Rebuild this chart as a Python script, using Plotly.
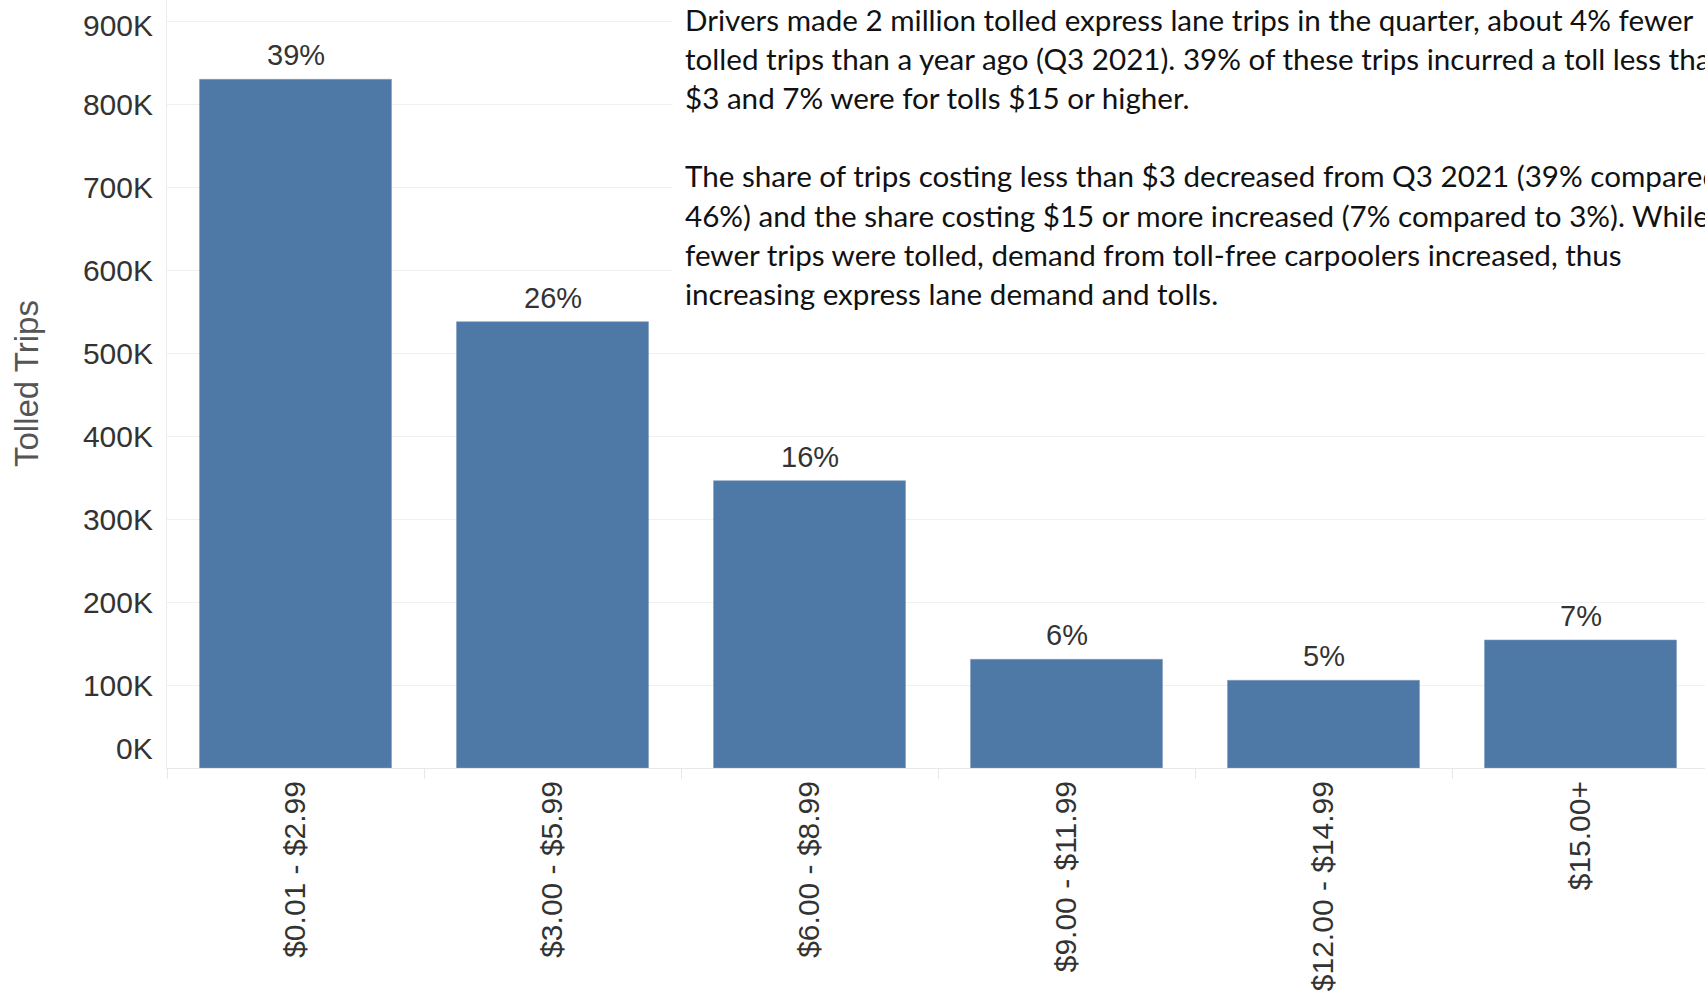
import plotly.graph_objects as go

# Toll ranges and tolled trip counts for the quarter
toll_ranges = ["$0.01 - $2.99", "$3.00 - $5.99", "$6.00 - $8.99",
               "$9.00 - $11.99", "$12.00 - $14.99", "$15.00+"]
tolled_trips = [830800, 538400, 346600, 131100, 105800, 154400]

y_tick_values = [100000, 200000, 300000, 400000, 500000, 600000, 700000, 800000]
y_tick_labels = ["100K", "200K", "300K", "400K", "500K", "600K", "700K", "800K"]

summary_lines = [
    "Drivers made 2 million tolled express lane trips in the quarter, about 4% fewer",
    "tolled trips than a year ago (Q3 2021). 39% of these trips incurred a toll less than",
    "$3 and 7% were for tolls $15 or higher.",
    "",
    "The share of trips costing less than $3 decreased from Q3 2021 (39% compared to",
    "46%) and the share costing $15 or more increased (7% compared to 3%). While",
    "fewer trips were tolled, demand from toll-free carpoolers increased, thus",
    "increasing express lane demand and tolls.",
]

total_trips = sum(tolled_trips)
share_labels = [f"{round(v / total_trips * 100)}%" for v in tolled_trips]

W, H = 1705, 992
ML, MB = 167, 224
PLOT_W = W - ML
PLOT_H = H - MB

BAR_COLOR = "#4e79a7"
GRID = "#f0f0f0"
AXIS_FONT = "Liberation Sans, Arial, sans-serif"
TICK_FONT = dict(family=AXIS_FONT, size=30, color="#333333")

fig = go.Figure(
    go.Bar(
        x=toll_ranges,
        y=tolled_trips,
        marker=dict(color=BAR_COLOR, line=dict(color="#7f9cc0", width=0.6)),
        hoverinfo="skip",
    )
)

# Share labels above each bar
for cat, val, lab in zip(toll_ranges, tolled_trips, share_labels):
    fig.add_annotation(
        x=cat, y=val, text=lab, showarrow=False,
        xanchor="center", yanchor="bottom", yshift=6,
        font=dict(family=AXIS_FONT, size=29, color="#333333"),
    )

# End labels of the value axis are nudged inside the pane
for val, lab, shift in [(0, "0K", 20), (900000, "900K", -4)]:
    fig.add_annotation(
        xref="paper", x=0, y=val, text=lab, showarrow=False,
        xanchor="right", yanchor="middle", xshift=-12, yshift=shift,
        font=TICK_FONT,
    )

# Axis title
fig.add_annotation(
    xref="paper", yref="paper", x=0, y=0.5, text="Tolled Trips",
    showarrow=False, textangle=-90, xanchor="center", yanchor="middle",
    xshift=26 - ML,
    font=dict(family=AXIS_FONT, size=33, color="#555555"),
)

# White panel behind the commentary text
fig.add_shape(
    type="rect", xref="paper", yref="paper", layer="above",
    x0=(672 - ML) / PLOT_W, x1=1.0, y0=1 - 320 / PLOT_H, y1=1.0,
    fillcolor="white", line=dict(width=0),
)

# Commentary lines (the panel runs past the right edge of the view)
TEXT_LEFT = 683
LINE_STEP = 39.2
FIRST_CENTER = 19
for i, line in enumerate(summary_lines):
    if not line:
        continue
    cy = FIRST_CENTER + i * LINE_STEP
    fig.add_annotation(
        xref="paper", yref="paper",
        x=(TEXT_LEFT - ML) / PLOT_W, y=1 - cy / PLOT_H,
        text=line, showarrow=False, xanchor="left", yanchor="middle",
        align="left",
        font=dict(family="Lato, Carlito, sans-serif", size=29.6, color="#111111"),
    )

fig.update_layout(
    width=W, height=H,
    margin=dict(l=ML, r=0, t=0, b=MB, pad=0),
    paper_bgcolor="white", plot_bgcolor="white",
    bargap=0.253,
    showlegend=False,
    xaxis=dict(
        range=[-0.5, -0.5 + PLOT_W / 257.0],
        tickangle=-90,
        tickson="boundaries",
        ticks="outside", ticklen=10, tickcolor="#e8e8e8", tickwidth=1,
        showgrid=False, zeroline=False,
        showline=True, linecolor="#e8e8e8", linewidth=1,
        tickfont=TICK_FONT,
        fixedrange=True,
    ),
    yaxis=dict(
        range=[0, 926500],
        tickvals=y_tick_values + [900000], ticktext=y_tick_labels + [""],
        showgrid=True, gridcolor=GRID, gridwidth=1,
        zeroline=False,
        showline=True, linecolor="#ececec", linewidth=1,
        ticks="", ticklabelstandoff=7,
        tickfont=TICK_FONT,
        fixedrange=True,
    ),
)

fig.write_html("out.html")
